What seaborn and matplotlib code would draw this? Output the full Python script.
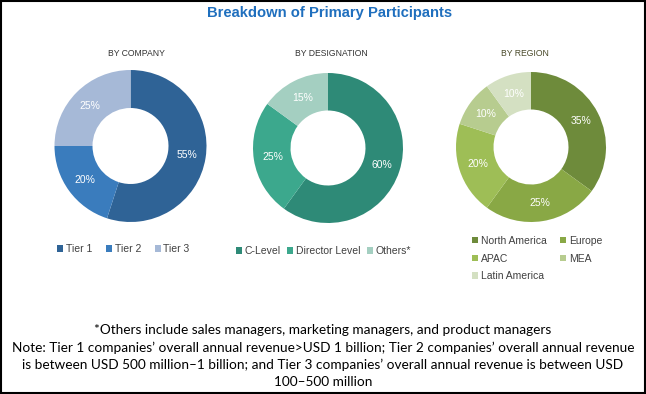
import matplotlib
matplotlib.use("Agg")
import matplotlib.pyplot as plt
from matplotlib.patches import Rectangle
import seaborn as sns

sns.set_theme(style="white")
plt.rcParams['font.family'] = ['Liberation Sans', 'DejaVu Sans']

# ---- data ----
company_labels = ["Tier 1", "Tier 2", "Tier 3"]
company_values = [55, 20, 25]
company_colors = ["#2F6396", "#3A7CBD", "#A6B9D7"]

designation_labels = ["C-Level", "Director Level", "Others*"]
designation_values = [60, 25, 15]
designation_colors = ["#2E8A77", "#3CA88D", "#A4CFC1"]

region_labels = ["North America", "Europe", "APAC", "MEA", "Latin America"]
region_values = [35, 25, 20, 10, 10]
region_colors = ["#6E8B3B", "#89A845", "#9EBE56", "#B7CC8F", "#D4E0C2"]

title = "Breakdown of Primary Participants"
subtitles = ["BY COMPANY", "BY DESIGNATION", "BY REGION"]
footnote = ("*Others include sales managers, marketing managers, and product managers\n"
            "Note: Tier 1 companies\u2019 overall annual revenue>USD 1 billion; Tier 2 companies\u2019 overall annual revenue\n"
            "is between USD 500 million\u20131 billion; and Tier 3 companies\u2019 overall annual revenue is between USD\n"
            "100\u2013500 million")

W, H = 646, 394
fig = plt.figure(figsize=(W / 100, H / 100), dpi=100)
fig.patch.set_facecolor("white")


def px_axes(cx, cy, r):
    return fig.add_axes([(cx - r) / W, (H - cy - r) / H, 2 * r / W, 2 * r / H])


def donut(ax, values, colors):
    wedges, texts, autotexts = ax.pie(
        values, colors=colors, startangle=90, counterclock=False,
        radius=1.0, autopct=lambda p: f"{p:.0f}%", pctdistance=0.75,
        wedgeprops=dict(width=0.5, edgecolor="none"),
        textprops=dict(color="white", fontsize=7.5))
    ax.set_xlim(-1, 1)
    ax.set_ylim(-1, 1)
    ax.set_aspect("equal")
    ax.axis("off")
    return wedges


ax1 = px_axes(130.5, 146, 76)
w1 = donut(ax1, company_values, company_colors)
ax2 = px_axes(328, 148, 75)
w2 = donut(ax2, designation_values, designation_colors)
ax3 = px_axes(531, 147, 75)
w3 = donut(ax3, region_values, region_colors)

# title and subtitles
fig.text(329.5 / W, 1 - 13 / H, title, ha="center", va="center", color="#1F6FBE",
         fontsize=10.6, fontweight="bold", family=["Liberation Sans", "DejaVu Sans"])
for x, s, c in zip([136, 331, 525], subtitles, ["#333333", "#333333", "#4A4A2A"]):
    fig.text(x / W, 1 - 53 / H, s, ha="center", va="center", color=c, fontsize=6.2,
             family=["Liberation Sans", "DejaVu Sans"])

leg_kw = dict(frameon=False, fontsize=7.5, handlelength=0.6, handleheight=0.6,
              handletextpad=0.25, borderpad=0, borderaxespad=0,
              labelcolor="#404040", loc="center left")

fig.legend(w1, company_labels, ncol=3, columnspacing=1.3,
           bbox_to_anchor=(57 / W, 1 - 249 / H), **leg_kw)
fig.legend(w2, designation_labels, ncol=3, columnspacing=0.6,
           bbox_to_anchor=(236 / W, 1 - 251 / H), **leg_kw)
order = [0, 2, 4, 1, 3]
fig.legend([w3[i] for i in order], [region_labels[i] for i in order], ncol=2,
           columnspacing=1.3, labelspacing=0.75,
           bbox_to_anchor=(472 / W, 1 - 258.5 / H), **leg_kw)

fig.text(323 / W, 1 - 356 / H, footnote, ha="center", va="center", color="black",
         fontsize=9.8, linespacing=1.5, family=["Lato", "DejaVu Sans"])

fig.add_artist(Rectangle((0.001, 0.002), 0.997, 0.996, transform=fig.transFigure,
                         fill=False, edgecolor="black", linewidth=1.5))

fig.savefig("out.png", dpi=100, facecolor="white")
